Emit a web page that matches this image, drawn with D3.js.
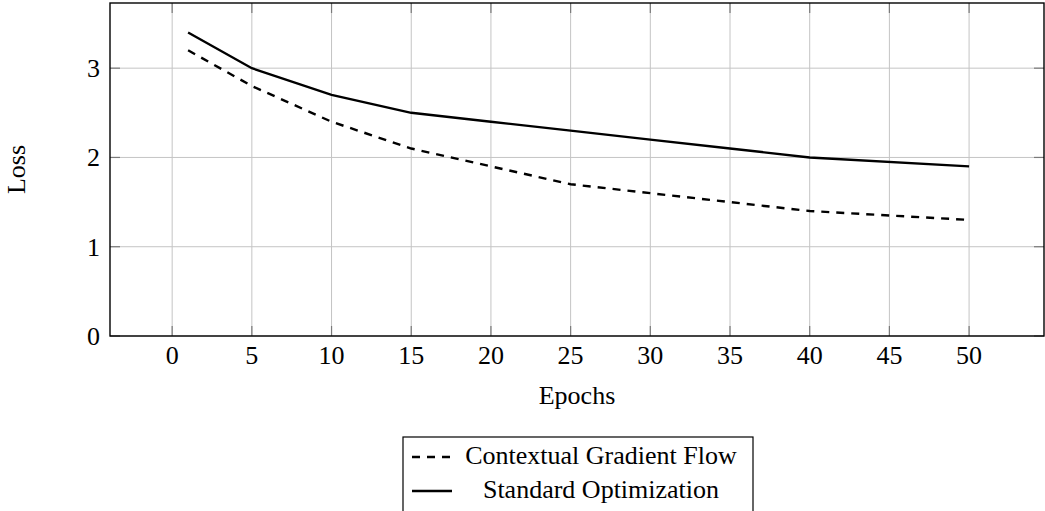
<!DOCTYPE html>
<html>
<head>
<meta charset="utf-8">
<script src="https://cdn.jsdelivr.net/npm/d3@7"></script>
<style>
  body { margin: 0; background: #fff; }
  svg { display: block; font-family: "Liberation Serif", "Times New Roman", serif; }
</style>
</head>
<body>
<div id="chart"></div>
<script>
// Loss curves
const epochs = [1, 5, 10, 15, 20, 25, 30, 35, 40, 50];
const gradientFlow = [3.2, 2.8, 2.4, 2.1, 1.9, 1.7, 1.6, 1.5, 1.4, 1.3];
const standardOpt = [3.4, 3.0, 2.7, 2.5, 2.4, 2.3, 2.2, 2.1, 2.0, 1.9];
const xTicks = [0, 5, 10, 15, 20, 25, 30, 35, 40, 45, 50];
const yTicks = [0, 1, 2, 3];
const seriesNames = ['Contextual Gradient Flow', 'Standard Optimization'];

const W = 1045, H = 511;
const plot = { left: 110, right: 1044, top: 3, bottom: 336 };
const fontSize = 26;

const svg = d3.select('#chart').append('svg')
  .attr('width', W)
  .attr('height', H);

const x = d3.scaleLinear().domain([-3.9, 54.7]).range([plot.left, plot.right]);
const y = d3.scaleLinear().domain([0, 3.73]).range([plot.bottom, plot.top]);

// grid
const grid = svg.append('g').attr('stroke', '#c4c4c4').attr('stroke-width', 1);
grid.selectAll('.gx').data(xTicks).enter().append('line')
  .attr('x1', d => x(d)).attr('x2', d => x(d))
  .attr('y1', plot.top).attr('y2', plot.bottom);
grid.selectAll('.gy').data(yTicks).enter().append('line')
  .attr('x1', plot.left).attr('x2', plot.right)
  .attr('y1', d => y(d)).attr('y2', d => y(d));

// inner ticks (pgfplots style, on all four sides)
const ticks = svg.append('g').attr('stroke', '#7a7a7a').attr('stroke-width', 1.2);
xTicks.forEach(t => {
  ticks.append('line').attr('x1', x(t)).attr('x2', x(t)).attr('y1', plot.bottom).attr('y2', plot.bottom - 10);
  ticks.append('line').attr('x1', x(t)).attr('x2', x(t)).attr('y1', plot.top).attr('y2', plot.top + 10);
});
yTicks.forEach(t => {
  ticks.append('line').attr('x1', plot.left).attr('x2', plot.left + 10).attr('y1', y(t)).attr('y2', y(t));
  ticks.append('line').attr('x1', plot.right).attr('x2', plot.right - 10).attr('y1', y(t)).attr('y2', y(t));
});

// frame
svg.append('rect')
  .attr('x', plot.left).attr('y', plot.top)
  .attr('width', plot.right - plot.left).attr('height', plot.bottom - plot.top)
  .attr('fill', 'none').attr('stroke', '#000').attr('stroke-width', 1.4);

// tick labels
svg.append('g').selectAll('text').data(xTicks).enter().append('text')
  .attr('x', d => x(d)).attr('y', 364)
  .attr('text-anchor', 'middle')
  .attr('font-size', fontSize)
  .text(d => d);
svg.append('g').selectAll('text').data(yTicks).enter().append('text')
  .attr('x', 100).attr('y', d => y(d) + 9)
  .attr('text-anchor', 'end')
  .attr('font-size', fontSize)
  .text(d => d);

// axis labels
svg.append('text')
  .attr('x', (plot.left + plot.right) / 2).attr('y', 404)
  .attr('text-anchor', 'middle').attr('font-size', fontSize)
  .text('Epochs');
svg.append('text')
  .attr('transform', `translate(25,${(plot.top + plot.bottom) / 2}) rotate(-90)`)
  .attr('text-anchor', 'middle').attr('font-size', fontSize)
  .text('Loss');

// lines
const line = d3.line()
  .x(d => x(d[0]))
  .y(d => y(d[1]));

const series = [
  { name: seriesNames[0], values: gradientFlow, dash: '8,7' },
  { name: seriesNames[1], values: standardOpt, dash: null }
];

series.forEach(s => {
  svg.append('path')
    .datum(epochs.map((e, i) => [e, s.values[i]]))
    .attr('fill', 'none')
    .attr('stroke', '#000')
    .attr('stroke-width', 2.4)
    .attr('stroke-dasharray', s.dash)
    .attr('d', line);
});

// legend
const legend = svg.append('g');
legend.append('rect')
  .attr('x', 403).attr('y', 437)
  .attr('width', 350).attr('height', 90)
  .attr('fill', '#fff').attr('stroke', '#000').attr('stroke-width', 1.2);

series.forEach((s, i) => {
  const base = 464 + i * 34;
  legend.append('line')
    .attr('x1', 412).attr('x2', 452)
    .attr('y1', base - 7).attr('y2', base - 7)
    .attr('stroke', '#000').attr('stroke-width', 2.4)
    .attr('stroke-dasharray', s.dash);
  legend.append('text')
    .attr('x', 601).attr('y', base)
    .attr('text-anchor', 'middle')
    .attr('font-size', fontSize)
    .text(s.name);
});
</script>
</body>
</html>
